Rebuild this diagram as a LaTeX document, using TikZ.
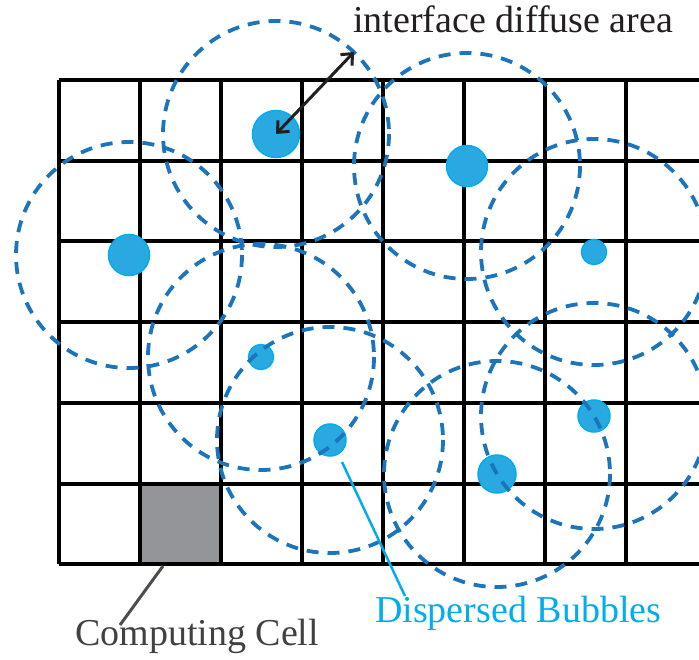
\documentclass[tikz,border=0pt]{standalone}
\usepackage{fontspec}
\setmainfont{Liberation Serif}
\usetikzlibrary{arrows.meta}
\definecolor{gridblack}{HTML}{000000}
\definecolor{cellgray}{HTML}{939598}
\definecolor{dashblue}{HTML}{1C75BC}
\definecolor{bubfill}{HTML}{29A9E0}
\definecolor{bubedge}{HTML}{00AEEF}
\definecolor{darktext}{HTML}{231F20}
\definecolor{graytext}{HTML}{414042}
\definecolor{grayline}{HTML}{4D4D4F}
\tikzset{
  gridline/.style={draw=gridblack, line width=3.6pt},
  cellbox/.style={fill=cellgray, draw=none, minimum size=81pt, inner sep=0pt},
  bubble/.style={circle, fill=bubfill, draw=bubedge, line width=1.5pt, inner sep=0pt},
  diffuse/.style={draw=dashblue, line width=3.8pt, dash pattern=on 12pt off 9pt},
  lbl/.style={inner sep=0pt, font=\fontsize{38}{40}\selectfont},
  arr/.style={draw=darktext, line width=3pt, {Straight Barb[length=9pt,width=16pt,line width=3pt]}-{Straight Barb[length=9pt,width=16pt,line width=3pt]}},
}
\begin{document}
\begin{tikzpicture}[x=1pt, y=-1pt]
\clip (0,0) rectangle (699,660);
\fill[white] (0,0) rectangle (699,660);
% gray computing cell
\node[cellbox] (gc) at (180.5,524) {};
% grid
\foreach \xx in {59,140,221,302,383,464,545,626} {
  \draw[gridline] (\xx,80) -- (\xx,564);
}
\foreach \yy in {80,161,241,322,403,484,564} {
  \draw[gridline] (59,\yy) -- (705,\yy);
}
% bubbles
\node[bubble, minimum size=47pt] (b1) at (276,134) {};
\node[bubble, minimum size=41pt] (b2) at (129,255) {};
\node[bubble, minimum size=41pt] (b3) at (467,166) {};
\node[bubble, minimum size=25pt] (b4) at (594,252) {};
\node[bubble, minimum size=25pt] (b5) at (261,357) {};
\node[bubble, minimum size=32pt] (b6) at (330,440) {};
\node[bubble, minimum size=38pt] (b7) at (497,474) {};
\node[bubble, minimum size=32pt] (b8) at (594,416) {};
% diffuse interface circles
\foreach \b in {b1,b2,b3,b4,b5,b6,b7,b8} {
  \draw[diffuse] (\b.center) circle[radius=113];
}
% labels
\node[lbl, text=darktext, anchor=base west] (tdiff) at (353,33) {interface diffuse area};
\node[lbl, text=graytext, anchor=base west] (tcell) at (75,645) {Computing Cell};
\node[lbl, text=bubedge, anchor=base west] (tbub) at (375,622) {Dispersed Bubbles};
% connectors
\coordinate (aend) at (354,52);
\draw[arr] (b1.center) -- (aend);
\coordinate (gcpt) at (163,566);
\coordinate (ccpt) at (120,625);
\draw[draw=grayline, line width=3pt] (gcpt) -- (ccpt);
\coordinate (dbpt) at (342,462);
\coordinate (dbend) at (405,596);
\draw[draw=bubedge, line width=2.5pt] (dbpt) -- (dbend);
\end{tikzpicture}
\end{document}
